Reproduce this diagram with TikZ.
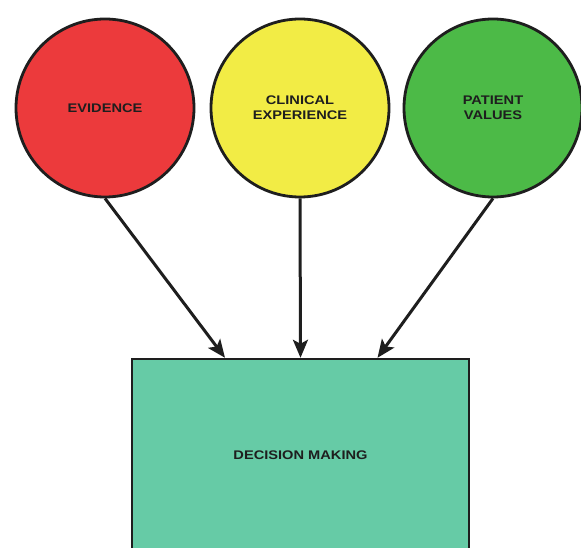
\documentclass[tikz,border=0pt]{standalone}
\usepackage{fontspec}
\setmainfont{Liberation Sans}
\newfontfamily\labelfont[FakeStretch=1.17]{Liberation Sans}
\usetikzlibrary{arrows.meta}
\definecolor{evRed}{HTML}{EC3A3C}
\definecolor{ceYellow}{HTML}{F2EC45}
\definecolor{pvGreen}{HTML}{4CBA47}
\definecolor{dmTeal}{HTML}{66CBA6}
\definecolor{inkDark}{HTML}{1E1E1E}
\begin{document}
\begin{tikzpicture}[x=1pt,y=-1pt,
  factor/.style={circle, draw=inkDark, line width=2.8pt, minimum size=178pt,
    inner sep=0pt, align=center, text=inkDark,
    font=\labelfont\fontsize{12.5}{15}\selectfont\bfseries},
  outcome/.style={rectangle, draw=inkDark, line width=2.4pt, fill=dmTeal,
    minimum width=337pt, minimum height=192pt, inner sep=0pt, text=inkDark,
    font=\labelfont\fontsize{12.5}{15}\selectfont\bfseries},
  feed/.style={draw=inkDark, line width=3pt,
    -{Stealth[length=18pt, width=15pt, inset=4pt]}}
]
\useasboundingbox (0,0) rectangle (581,548);
\fill[white] (0,0) rectangle (581,548);

% the three inputs
\node[factor, fill=evRed]    (ev) at (105,108) {EVIDENCE};
\node[factor, fill=ceYellow] (ce) at (300,108) {CLINICAL\\EXPERIENCE};
\node[factor, fill=pvGreen]  (pv) at (493,108) {PATIENT\\VALUES};

% the outcome box (runs past the bottom edge)
\node[outcome] (dm) at (300.5,455) {DECISION MAKING};

% connectors into the top of the box
\draw[feed] (ev.south) -- ([xshift=-75.5pt]dm.north);
\draw[feed] (ce.south) -- (dm.north);
\draw[feed] (pv.south) -- ([xshift=77pt]dm.north);
\end{tikzpicture}
\end{document}
